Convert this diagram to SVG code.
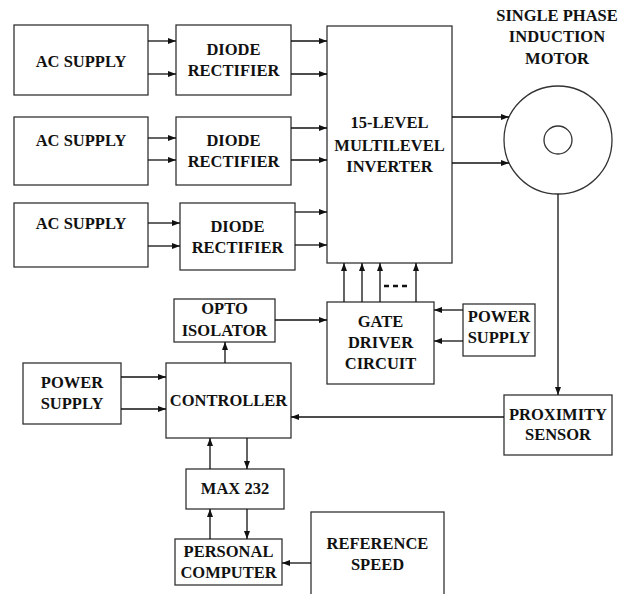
<svg xmlns="http://www.w3.org/2000/svg" width="619" height="594" viewBox="0 0 619 594">
<defs>
<marker id="ah" markerWidth="8" markerHeight="6" refX="8" refY="3" orient="auto" markerUnits="userSpaceOnUse">
<path d="M0,0 L8,3 L0,6 Z" fill="#111"/>
</marker>
</defs>
<style>
.box{fill:#fff;stroke:#333;stroke-width:1.3}
text{font-family:'Liberation Serif','DejaVu Serif',serif;font-weight:700;font-size:16.5px;fill:#111;text-anchor:middle}
.c{stroke:#111;stroke-width:1.3;fill:none;marker-end:url(#ah)}
</style>
<rect width="619" height="594" fill="#fff"/>
<g id="ac1"><rect class="box" x="14" y="25" width="134" height="70"/><text x="81" y="67">AC SUPPLY</text></g>
<g id="dr1"><rect class="box" x="176" y="25" width="115" height="70"/><text x="233.5" y="55">DIODE</text><text x="233.5" y="76">RECTIFIER</text></g>
<g id="ac2"><rect class="box" x="14" y="117" width="134" height="68"/><text x="81" y="146">AC SUPPLY</text></g>
<g id="dr2"><rect class="box" x="176" y="117" width="115" height="68"/><text x="233.5" y="146">DIODE</text><text x="233.5" y="167">RECTIFIER</text></g>
<g id="ac3"><rect class="box" x="14" y="203" width="134" height="64"/><text x="81" y="229">AC SUPPLY</text></g>
<g id="dr3"><rect class="box" x="180" y="203" width="115" height="67"/><text x="237.5" y="232">DIODE</text><text x="237.5" y="253">RECTIFIER</text></g>
<g id="inverter"><rect class="box" x="327" y="26" width="125" height="237"/><text x="389.5" y="128">15-LEVEL</text><text x="389.5" y="151">MULTILEVEL</text><text x="389.5" y="172">INVERTER</text></g>
<g id="motor"><circle class="box" cx="558" cy="140" r="54"/><circle class="box" cx="558" cy="140" r="14"/><text x="557" y="21">SINGLE PHASE</text><text x="557" y="42">INDUCTION</text><text x="557" y="64">MOTOR</text></g>
<g id="gate"><rect class="box" x="327" y="302" width="107" height="82"/><text x="380.5" y="327">GATE</text><text x="380.5" y="348">DRIVER</text><text x="380.5" y="369">CIRCUIT</text></g>
<g id="ps2"><rect class="box" x="463" y="304" width="72" height="52"/><text x="499" y="322">POWER</text><text x="499" y="343">SUPPLY</text></g>
<g id="proximity"><rect class="box" x="504" y="395" width="108" height="60"/><text x="558" y="420">PROXIMITY</text><text x="558" y="440">SENSOR</text></g>
<g id="opto"><rect class="box" x="174" y="299" width="101" height="43"/><text x="224.5" y="314">OPTO</text><text x="224.5" y="336">ISOLATOR</text></g>
<g id="ps1"><rect class="box" x="23" y="363" width="98" height="61"/><text x="72" y="388">POWER</text><text x="72" y="409">SUPPLY</text></g>
<g id="controller"><rect class="box" x="166" y="363" width="125" height="75"/><text x="228.5" y="406">CONTROLLER</text></g>
<g id="max232"><rect class="box" x="186" y="469" width="98" height="40"/><text x="235" y="494">MAX 232</text></g>
<g id="pc"><rect class="box" x="175" y="539" width="107" height="46"/><text x="228.5" y="557">PERSONAL</text><text x="228.5" y="578">COMPUTER</text></g>
<g id="refspeed"><rect class="box" x="311" y="512" width="133" height="100"/><text x="377.5" y="549">REFERENCE</text><text x="377.5" y="570">SPEED</text></g>
<g id="connectors">
<line class="c" x1="148" y1="41" x2="176" y2="41"/>
<line class="c" x1="148" y1="74" x2="176" y2="74"/>
<line class="c" x1="148" y1="138" x2="176" y2="138"/>
<line class="c" x1="148" y1="160" x2="176" y2="160"/>
<line class="c" x1="148" y1="223" x2="180" y2="223"/>
<line class="c" x1="148" y1="246" x2="180" y2="246"/>
<line class="c" x1="291" y1="41" x2="327" y2="41"/>
<line class="c" x1="291" y1="74" x2="327" y2="74"/>
<line class="c" x1="291" y1="128" x2="327" y2="128"/>
<line class="c" x1="291" y1="160" x2="327" y2="160"/>
<line class="c" x1="295" y1="212" x2="327" y2="212"/>
<line class="c" x1="295" y1="245" x2="327" y2="245"/>
<line class="c" x1="452" y1="117" x2="509" y2="117"/>
<line class="c" x1="452" y1="163" x2="509" y2="163"/>
<line class="c" x1="344" y1="302" x2="344" y2="263"/>
<line class="c" x1="362" y1="302" x2="362" y2="263"/>
<line class="c" x1="380" y1="302" x2="380" y2="263"/>
<line class="c" x1="416" y1="302" x2="416" y2="263"/>
<line x1="384" y1="286" x2="407" y2="286" stroke="#111" stroke-width="2.5" stroke-dasharray="5,4"/>
<line class="c" x1="463" y1="310" x2="434" y2="310"/>
<line class="c" x1="463" y1="341" x2="434" y2="341"/>
<line class="c" x1="275" y1="320" x2="327" y2="320"/>
<line class="c" x1="225" y1="363" x2="225" y2="342"/>
<line class="c" x1="121" y1="377" x2="166" y2="377"/>
<line class="c" x1="121" y1="409" x2="166" y2="409"/>
<line class="c" x1="558" y1="194" x2="558" y2="395"/>
<line class="c" x1="504" y1="417" x2="291" y2="417"/>
<line class="c" x1="210" y1="469" x2="210" y2="438"/>
<line class="c" x1="247" y1="438" x2="247" y2="469"/>
<line class="c" x1="210" y1="539" x2="210" y2="509"/>
<line class="c" x1="247" y1="509" x2="247" y2="539"/>
<line class="c" x1="311" y1="563" x2="282" y2="563"/>
</g>
</svg>
